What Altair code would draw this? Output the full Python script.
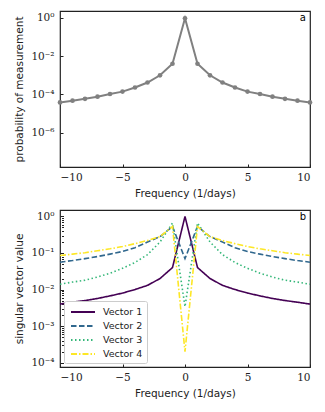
import altair as alt
import pandas as pd

freq = [-10, -9, -8, -7, -6, -5, -4, -3, -2, -1, 0, 1, 2, 3, 4, 5, 6, 7, 8, 9, 10]
prob = [3.8e-5, 4.7e-5, 5.9e-5, 7.6e-5, 1.05e-4, 1.4e-4, 2.3e-4, 4.2e-4, 1.0e-3, 4.0e-3, 0.95,
        4.0e-3, 1.0e-3, 4.2e-4, 2.3e-4, 1.4e-4, 1.05e-4, 7.6e-5, 5.9e-5, 4.7e-5, 3.8e-5]

vec1 = [0.004, 0.0045, 0.005, 0.0057, 0.0067, 0.008, 0.01, 0.013, 0.02, 0.04, 1.0,
        0.04, 0.02, 0.013, 0.01, 0.008, 0.0067, 0.0057, 0.005, 0.0045, 0.004]
vec2 = [0.056, 0.062, 0.07, 0.08, 0.093, 0.11, 0.14, 0.2, 0.28, 0.53, 0.07,
        0.53, 0.28, 0.2, 0.14, 0.11, 0.093, 0.08, 0.07, 0.062, 0.056]
vec3 = [0.014, 0.016, 0.018, 0.022, 0.028, 0.038, 0.055, 0.09, 0.2, 0.66, 0.0034,
        0.66, 0.2, 0.09, 0.055, 0.038, 0.028, 0.022, 0.018, 0.016, 0.014]
vec4 = [0.085, 0.093, 0.102, 0.115, 0.13, 0.15, 0.18, 0.22, 0.28, 0.53, 0.0002,
        0.53, 0.28, 0.22, 0.18, 0.15, 0.13, 0.115, 0.102, 0.093, 0.085]

vector_names = ["Vector 1", "Vector 2", "Vector 3", "Vector 4"]
vector_colors = ["#440154", "#31688e", "#35b779", "#fde725"]
vector_dashes = [[1, 0], [5.5, 2.5], [1.5, 2.5], [6, 2, 1.5, 2]]

df_top = pd.DataFrame({"freq": freq, "prob": prob})
rows = []
for name, vals in zip(vector_names, [vec1, vec2, vec3, vec4]):
    for f, v in zip(freq, vals):
        rows.append({"freq": f, "value": v, "vector": name})
df_bot = pd.DataFrame(rows)

E = "round(log(datum.value)/LN10)"
sup = ("'10' + (" + E + " < 0 ? '\u207b' : '') + substring('\u2070\u00b9\u00b2\u00b3\u2074\u2075\u2076\u2077\u2078\u2079', abs(" + E + "), abs(" + E + ")+1)")
sup_minor = "abs(log(datum.value)/LN10 - " + E + ") > 0.01 ? '' : " + sup

W = 250

x_axis = alt.Axis(values=[-10, -5, 0, 5, 10], title="Frequency (1/days)", offset=-3,
                  tickSize=3, domain=False, labelPadding=5, titlePadding=6)

# top panel
top_y = alt.Y("prob:Q", scale=alt.Scale(type="log", domain=[1.6e-8, 2.3], nice=False),
              axis=alt.Axis(values=[1e-6, 1e-4, 1e-2, 1], labelExpr=sup, offset=-3, tickSize=3,
                            domain=False, labelPadding=6, titlePadding=6,
                            title="probability of measurement"))
top_x = alt.X("freq:Q", scale=alt.Scale(domain=[-10, 10], nice=False), axis=x_axis)
top_base = alt.Chart(df_top).encode(x=top_x, y=top_y)
top_line = top_base.mark_line(color="#808080", strokeWidth=2)
top_pts = top_base.mark_circle(color="#808080", size=22, opacity=1)
lab_a = alt.Chart(pd.DataFrame({"t": ["a"]})).mark_text(
    align="right", baseline="top", font="DejaVu Sans", fontSize=10, color="black"
).encode(x=alt.value(W - 4), y=alt.value(2), text="t:N")
top = alt.layer(top_line, top_pts, lab_a).properties(width=W, height=156)

# bottom panel
minor_vals = []
for k in [-4, -3, -2, -1]:
    for m in range(1, 10):
        minor_vals.append(m * 10.0 ** k)
minor_vals.append(1.0)

leg = alt.Legend(title=None, orient="bottom-left", offset=4,
                 fillColor="white", strokeColor="#cccccc", padding=4,
                 cornerRadius=2, symbolType="M-2,0H2", symbolSize=144, symbolOffset=8,
                 symbolStrokeWidth=1.8, labelFontSize=9.5, labelOffset=13,
                 labelFont="DejaVu Sans", labelColor="#222222", rowPadding=2)

bot_y = alt.Y("value:Q", scale=alt.Scale(type="log", domain=[7.6e-5, 1.5], nice=False),
              axis=alt.Axis(values=minor_vals, labelExpr=sup_minor, labelOverlap=False,
                            offset=-3.5, domain=False, labelPadding=6, titlePadding=6,
                            tickSize={"condition": {"test": "abs(log(datum.value)/LN10 - " + E + ") > 0.01", "value": 2}, "value": 3.5},
                            title="singular vector value"))
bot_x = alt.X("freq:Q", scale=alt.Scale(domain=[-10, 10], nice=False), axis=x_axis)
bot_lines = alt.Chart(df_bot).mark_line(strokeWidth=1.6).encode(
    x=bot_x, y=bot_y,
    color=alt.Color("vector:N", scale=alt.Scale(domain=vector_names, range=vector_colors), legend=leg),
    strokeDash=alt.StrokeDash("vector:N", scale=alt.Scale(domain=vector_names, range=vector_dashes), legend=leg),
    order=alt.Order("vector:N"),
)
lab_b = alt.Chart(pd.DataFrame({"t": ["b"]})).mark_text(
    align="right", baseline="top", font="DejaVu Sans", fontSize=10, color="black"
).encode(x=alt.value(W - 4), y=alt.value(2), text="t:N")
bot = alt.layer(bot_lines, lab_b).properties(width=W, height=157)

chart = alt.vconcat(top, bot, spacing=9).resolve_scale(
    color="independent", strokeDash="independent"
).resolve_legend(
    color="independent", strokeDash="independent"
).properties(
    padding={"left": 6, "top": 2, "right": 2, "bottom": 2}
).configure_view(stroke="#222222", strokeWidth=1.2).configure_axis(
    grid=False, labelFont="DejaVu Serif", labelFontSize=10.5, labelColor="#222222",
    titleFont="DejaVu Sans", titleFontSize=10.5, titleFontWeight="normal", titleColor="#222222",
    tickColor="#222222", tickWidth=1
)

chart.save("out.html", embed_options={"renderer": "svg", "actions": False})
